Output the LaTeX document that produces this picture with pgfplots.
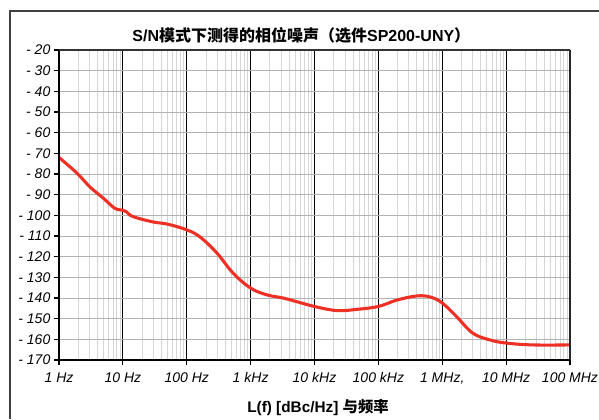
\documentclass[border=0pt]{standalone}
\usepackage{fontspec}
\setmainfont{Liberation Sans}
\newfontfamily\cjk{Noto Sans CJK SC}
\usepackage{pgfplots}
\pgfplotsset{compat=1.18}
\definecolor{curve}{HTML}{EE3024}
\begin{document}
\begin{tikzpicture}[x=1pt,y=1pt]
\path[use as bounding box] (0,0) rectangle (449.25,314.25);
\draw[color=black!75, line width=0.8pt] (7.5,0) -- (7.5,306) -- (449.25,306);
\begin{axis}[
  at={(44.25pt,44.25pt)}, anchor=south west,
  scale only axis, width=383.25pt, height=232.5pt,
  xmode=log, xmin=1, xmax=1e8, ymin=-170, ymax=-20,
  log basis x=10,
  xtick={1,10,100,1000,10000,100000,1000000,10000000,100000000},
  minor xtick={2,3,4,5,6,7,8,9,20,30,40,50,60,70,80,90,200,300,400,500,600,700,800,900,
    2000,3000,4000,5000,6000,7000,8000,9000,20000,30000,40000,50000,60000,70000,80000,90000,
    200000,300000,400000,500000,600000,700000,800000,900000,
    2000000,3000000,4000000,5000000,6000000,7000000,8000000,9000000,
    20000000,30000000,40000000,50000000,60000000,70000000,80000000,90000000},
  xticklabels={1 Hz,10 Hz,100 Hz,1 kHz,10 kHz,100 kHz,{1 MHz,},10 MHz,100 MHz},
  ytick={-170,-160,-150,-140,-130,-120,-110,-100,-90,-80,-70,-60,-50,-40,-30,-20},
  yticklabels={- 170,- 160,- 150,- 140,- 130,- 120,- 110,- 100,- 90,- 80,- 70,- 60,- 50,- 40,- 30,- 20},
  ticklabel style={font=\itshape\fontsize{10.5}{12}\selectfont},
  /pgf/number format/assume math mode=true,
  tick align=outside, xtick pos=bottom, ytick pos=left,
  major tick length=4pt, minor tick length=0pt,
  tick style={black, line width=0.9pt},
  xmajorgrids, xminorgrids, ymajorgrids,
  major x grid style={black, line width=0.7pt},
  minor x grid style={black!16, line width=0.6pt},
  major y grid style={black!30, line width=0.6pt},
  axis line style={draw=none},
  xticklabel style={yshift=-2pt},
  yticklabel style={xshift=1pt},
  clip=false,
]
\addplot[curve, line width=2.3pt, smooth, tension=0.6] coordinates {
(1,-72) (1.9,-79.5) (3.06,-86.3) (4.9,-91.6) (7.5,-96.6) (10,-97.5) (11.5,-98.4) (14.4,-100.6)
(29.6,-103.2) (49,-104.2) (100,-107) (162,-110.5) (296,-118.2) (530,-127.9) (1000,-135.2)
(1810,-138.5) (3220,-140) (5900,-142.2) (10000,-144.1) (22400,-146.1) (46000,-145.5)
(100000,-144.1) (195000,-141) (400000,-139) (645000,-139.5) (1000000,-142.4) (1700000,-149.2)
(3000000,-157) (5600000,-160.3) (10000000,-161.8) (26000000,-162.7) (100000000,-162.7)
};
\draw[black, line width=1.5pt] (rel axis cs:0,1) -- (rel axis cs:0,0) -- (rel axis cs:1,0);
\draw[black!80, line width=0.9pt] (rel axis cs:0,1) -- (rel axis cs:1,1);
\draw[black!85, line width=1.3pt] (rel axis cs:1,0) -- (rel axis cs:1,1);
\end{axis}
\node[font=\bfseries\fontsize{12}{14}\selectfont] at (226,288) {S/N{\cjk\bfseries 模式下测得的相位噪声（选件}SP200-UNY{\cjk\bfseries ）}};
\node[font=\bfseries\fontsize{11.5}{13}\selectfont] at (238.5,8.5) {L(f) [dBc/Hz] {\cjk\bfseries 与频率}};
\end{tikzpicture}
\end{document}
